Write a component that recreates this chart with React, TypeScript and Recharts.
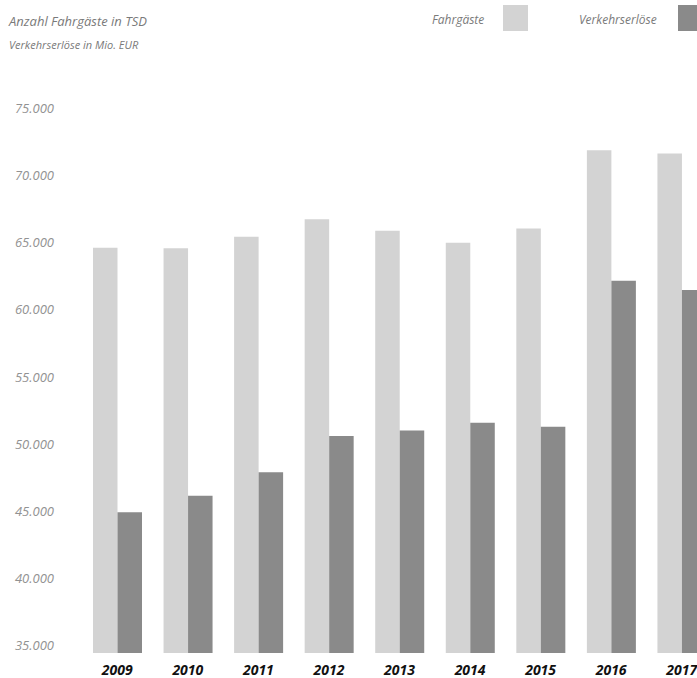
import React from 'react';
import { BarChart, Bar, XAxis, YAxis } from 'recharts';

const years = ['2009', '2010', '2011', '2012', '2013', '2014', '2015', '2016', '2017'];
const fahrgaeste = [65180, 65150, 66000, 67300, 66460, 65550, 66620, 72450, 72210];
const verkehrserloese = [45480, 46710, 48455, 51160, 51580, 52150, 51850, 62720, 62030];
const yTicks = [35000, 40000, 45000, 50000, 55000, 60000, 65000, 70000, 75000];

const LIGHT = '#d3d3d3';
const DARK = '#8a8a8a';
const FONT = '"Open Sans", "DejaVu Sans", sans-serif';

const chartData = years.map((year, i) => ({
  year,
  fahrgaeste: fahrgaeste[i],
  verkehrserloese: verkehrserloese[i],
}));

const fmt = (v: number) => v.toLocaleString('de-DE', { minimumFractionDigits: 0 }).replace(/,/g, '.');

const YTick = (props: any) => {
  const { y, payload } = props;
  return (
    <text x={54} y={y - 3} textAnchor="end" fontSize={13} fontStyle="italic" fill="#929292" fontFamily={FONT}>
      {fmt(payload.value)}
    </text>
  );
};

const XTick = (props: any) => {
  const { x, y, payload } = props;
  return (
    <text x={x} y={y + 14} textAnchor="middle" fontSize={14} fontWeight="bold" fontStyle="italic" fill="#111" fontFamily={FONT}>
      {payload.value}
    </text>
  );
};

const App: React.FC = () => {
  return (
    <div style={{ position: 'fixed', left: 0, top: 0, width: 697, height: 678, overflow: 'hidden', background: '#fff', fontFamily: FONT }}>
      <div style={{ position: 'absolute', left: 9, top: 11, fontSize: 13, fontStyle: 'italic', color: '#7a7a7a', lineHeight: '20px' }}>
        Anzahl Fahrgäste in TSD
      </div>
      <div style={{ position: 'absolute', left: 9, top: 36, fontSize: 11, fontStyle: 'italic', color: '#7a7a7a', lineHeight: '18px' }}>
        Verkehrserlöse in Mio. EUR
      </div>

      <div style={{ position: 'absolute', left: 432, top: 10, fontSize: 12, fontStyle: 'italic', color: '#7a7a7a', lineHeight: '20px' }}>
        Fahrgäste
      </div>
      <div style={{ position: 'absolute', left: 503, top: 5, width: 25, height: 26, background: LIGHT }} />
      <div style={{ position: 'absolute', left: 579, top: 10, fontSize: 12, fontStyle: 'italic', color: '#7a7a7a', lineHeight: '20px' }}>
        Verkehrserlöse
      </div>
      <div style={{ position: 'absolute', left: 678, top: 5, width: 25, height: 26, background: DARK }} />

      <div style={{ position: 'absolute', left: 0, top: 0 }}>
        <BarChart
          width={740}
          height={678}
          data={chartData}
          margin={{ top: 116, right: 23, left: 0, bottom: 0 }}
          barGap={0}
          barSize={24.5}
        >
          <XAxis dataKey="year" axisLine={false} tickLine={false} height={25} tick={<XTick />} interval={0} />
          <YAxis
            domain={[35000, 75000]}
            ticks={yTicks}
            axisLine={false}
            tickLine={false}
            width={82}
            tick={<YTick />}
            allowDataOverflow
          />
          <Bar dataKey="fahrgaeste" fill={LIGHT} isAnimationActive={false} />
          <Bar dataKey="verkehrserloese" fill={DARK} isAnimationActive={false} />
        </BarChart>
      </div>
    </div>
  );
};

export default App;
